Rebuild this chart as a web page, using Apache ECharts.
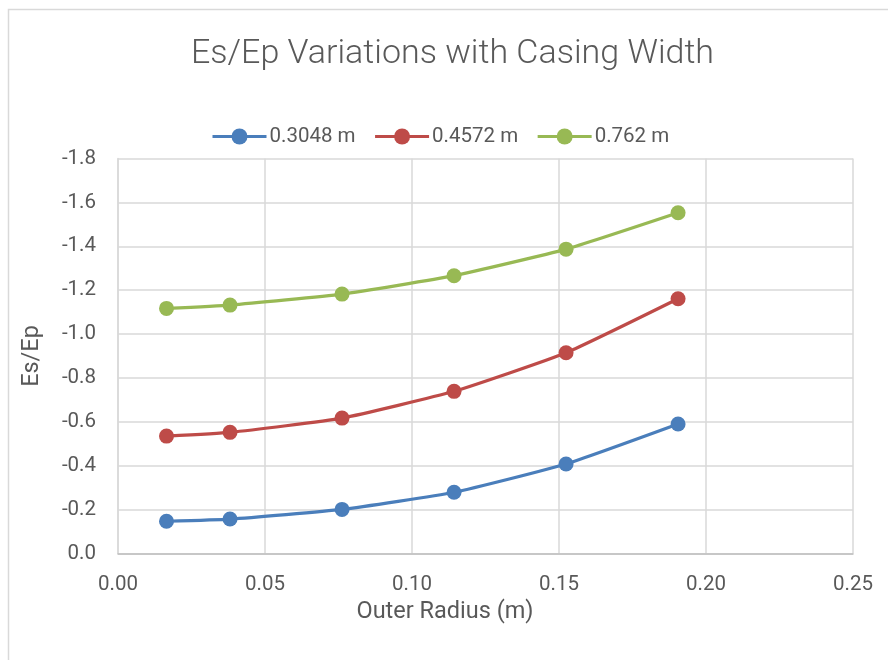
<!DOCTYPE html>
<html>
<head>
<meta charset="utf-8">
<script src="https://cdn.jsdelivr.net/npm/echarts@6/dist/echarts.min.js"></script>
<style>
  html, body { margin: 0; padding: 0; background: #fff; }
  #chart { width: 888px; height: 660px; }
</style>
</head>
<body>
<div id="chart"></div>
<script>
// Outer radius of the casing (m)
const outerRadius = [0.0165, 0.0381, 0.0762, 0.1143, 0.1524, 0.1905];

// Es/Ep ratio for each casing width
const seriesNames = ['0.3048 m', '0.4572 m', '0.762 m'];
const esEp_03048 = [-0.147, -0.157, -0.201, -0.279, -0.408, -0.590];
const esEp_04572 = [-0.535, -0.552, -0.617, -0.739, -0.915, -1.161];
const esEp_0762  = [-1.117, -1.132, -1.182, -1.266, -1.387, -1.553];

const seriesColors = ['#4A7EBB', '#BE4B48', '#98B954'];
const seriesValues = [esEp_03048, esEp_04572, esEp_0762];

const FONT = 'Roboto';
const TEXT = '#595959';

const chart = echarts.init(document.getElementById('chart'));

chart.setOption({
  animation: false,
  backgroundColor: '#fff',
  graphic: [{
    type: 'rect',
    shape: { x: 8.5, y: 9.5, width: 1000, height: 1000 },
    style: { fill: 'none', stroke: '#d9d9d9', lineWidth: 1.5 },
    silent: true
  }],
  title: {
    text: 'Es/Ep Variations with Casing Width',
    left: 186,
    top: 32,
    textStyle: { fontFamily: FONT, fontWeight: 300, fontSize: 34, color: TEXT }
  },
  legend: {
    top: 121,
    left: 206,
    itemWidth: 54,
    itemHeight: 20,
    itemGap: 18,
    lineStyle: { width: 3 },
    textStyle: { fontFamily: FONT, fontSize: 20.5, color: TEXT, padding: [0, 0, 0, -2] },
    data: seriesNames
  },
  grid: { left: 118, right: 35, top: 158.5, bottom: 106.5 },
  xAxis: {
    type: 'value',
    min: 0,
    max: 0.25,
    interval: 0.05,
    name: 'Outer Radius (m)',
    nameLocation: 'middle',
    nameGap: 46,
    nameTextStyle: { fontFamily: FONT, fontSize: 23.5, color: TEXT, padding: [0, 81, 0, 0] },
    axisLine: { show: true, lineStyle: { color: '#bfbfbf', width: 1.5 } },
    axisTick: { show: false },
    axisLabel: {
      fontFamily: FONT, fontSize: 20.5, color: TEXT, margin: 21,
      formatter: v => v.toFixed(2)
    },
    splitLine: { show: true, lineStyle: { color: '#d9d9d9', width: 1.5 } }
  },
  yAxis: {
    type: 'value',
    inverse: true,
    min: -1.8,
    max: 0,
    interval: 0.2,
    name: 'Es/Ep',
    nameLocation: 'middle',
    nameGap: 74,
    nameTextStyle: { fontFamily: FONT, fontSize: 23.5, color: TEXT },
    axisLine: { show: true, onZero: false, lineStyle: { color: '#d9d9d9', width: 1.5 } },
    axisTick: { show: false },
    axisLabel: {
      fontFamily: FONT, fontSize: 20.5, color: TEXT, margin: 22,
      formatter: v => (Math.abs(v) < 1e-9 ? 0 : v).toFixed(1)
    },
    splitLine: { show: true, lineStyle: { color: '#d9d9d9', width: 1.5 } }
  },
  series: seriesNames.map((name, i) => ({
    name: name,
    type: 'line',
    smooth: 0.15,
    symbol: 'circle',
    symbolSize: 15,
    color: seriesColors[i],
    lineStyle: { width: 3.2, color: seriesColors[i] },
    itemStyle: { color: seriesColors[i] },
    data: outerRadius.map((x, j) => [x, seriesValues[i][j]])
  }))
});
</script>
</body>
</html>
